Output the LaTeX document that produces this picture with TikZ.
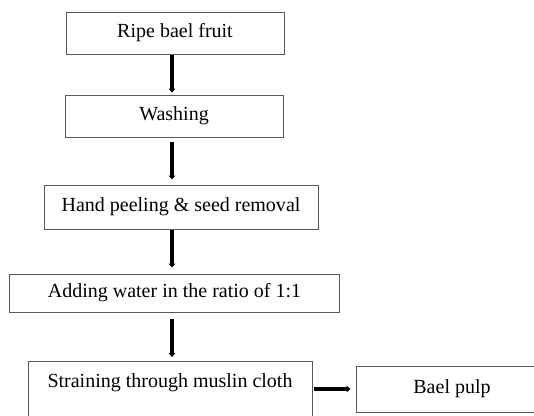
\documentclass[tikz,border=0pt]{standalone}
\usepackage{fontspec}
\setmainfont{Liberation Serif}
\usetikzlibrary{arrows.meta,positioning}

\begin{document}
\begin{tikzpicture}
[x=0.75pt,y=-0.75pt,
stage/.style={rectangle,draw=black!65,line width=0.75pt,inner sep=3pt,minimum height=31.5pt,font=\fontsize{15}{18}\selectfont},
flow/.style={-{Triangle[length=3pt,width=5pt]},line width=2.6pt}]
\clip (0,0) rectangle (534,415);
\node[stage,minimum width=163.5pt]                 at (175,33)  (fruit) {Ripe bael fruit};
\node[stage,minimum width=163.5pt]                 at (174,116) (wash)  {Washing};
\node[stage,minimum width=205.5pt,minimum height=33pt]   at (181,207) (peel)  {Hand peeling \& seed removal};
\node[stage,minimum width=247pt,minimum height=28.5pt]   at (174.5,293) (water) {Adding water in the ratio of 1:1};
\node[stage,minimum width=213pt,anchor=north,text height=16.5pt,text depth=40pt] at (170,361) (strain) {Straining through muslin cloth};
\node[stage,minimum width=144pt,minimum height=34.5pt]   at (452,389) (pulp)  {Bael pulp};

\coordinate (col) at (172,0);
\draw [flow,shorten >=1.5pt] (fruit.south -| col) -- (wash.north -| col);
\draw [flow,shorten <=3pt,shorten >=3.75pt] (wash.south -| col) -- (peel.north -| col);
\draw [flow,shorten >=4.5pt] (peel.south -| col) -- (water.north -| col);
\draw [flow,shorten <=5pt,shorten >=3pt] (water.south -| col) -- (strain.north -| col);
\draw [flow,shorten <=0.75pt,shorten >=3.75pt] (strain.east |- pulp) -- (pulp.west);
\end{tikzpicture}
\end{document}
